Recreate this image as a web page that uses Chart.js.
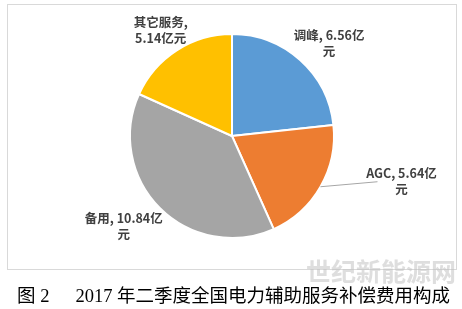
<!DOCTYPE html>
<html>
<head>
<meta charset="utf-8">
<script src="https://cdn.jsdelivr.net/npm/chart.js@4"></script>
<style>
  html, body { margin: 0; padding: 0; background: #fff; }
  body { width: 462px; height: 309px; position: relative; overflow: hidden; }
  #box { position: absolute; left: 7px; top: 4px; width: 448px; height: 264px; border: 1px solid #d9d9d9; }
  #box canvas { position: absolute; left: 0; top: 0; }
  #caption { position: absolute; left: 17px; top: 281px; font: 18.5px 'Liberation Serif', 'Noto Sans CJK SC'; color: #000; white-space: pre; }
  #caption span { margin-left: 26px; }
  #mark { position: absolute; left: 306px; top: 252px; font: bold 25px 'Noto Sans CJK SC'; color: rgba(190,190,190,0.5); }
</style>
</head>
<body>
<div id="box"><canvas id="pieChart" width="448" height="264"></canvas></div>
<div id="mark">世纪新能源网</div>
<div id="caption">图 2<span>2017 年二季度全国电力辅助服务补偿费用构成</span></div>
<script>
// datos del gráfico
const categorias = ['调峰', 'AGC', '备用', '其它服务'];
const valores = [6.56, 5.64, 10.84, 5.14];
const colores = ['#5B9BD5', '#ED7D31', '#A5A5A5', '#FFC000'];
// texto de cada etiqueta (líneas)
const etiquetas = [
    ['调峰, 6.56亿', '元'],
    ['AGC, 5.64亿', '元'],
    ['备用, 10.84亿', '元'],
    ['其它服务,', '5.14亿元']
];

// desplazamiento de la etiqueta respecto al borde del sector
const ajustes = [
    { dx: 29, dy: -17 },
    { dx: 81, dy: -5, linea: 57 },
    { dx: -36, dy: 18 },
    { dx: -16, dy: -20 }
];

const pluginEtiquetas = {
    id: 'etiquetas',
    afterDatasetsDraw(chart) {
        const ctx = chart.ctx;
        const meta = chart.getDatasetMeta(0);
        ctx.save();
        ctx.font = 'bold 12.5px "Noto Sans CJK SC"';
        ctx.fillStyle = '#404040';
        ctx.textAlign = 'center';
        ctx.textBaseline = 'middle';
        meta.data.forEach((arc, i) => {
            const mid = (arc.startAngle + arc.endAngle) / 2;
            const ex = arc.x + Math.cos(mid) * arc.outerRadius;
            const ey = arc.y + Math.sin(mid) * arc.outerRadius;
            const a = ajustes[i];
            if (a.linea) {
                ctx.strokeStyle = '#A6A6A6';
                ctx.lineWidth = 1;
                ctx.beginPath();
                ctx.moveTo(ex, ey);
                ctx.lineTo(ex + a.linea, ey - 5);
                ctx.stroke();
            }
            const lineas = etiquetas[i];
            const cx = ex + a.dx;
            const cy = ey + a.dy;
            lineas.forEach((t, k) => {
                ctx.fillText(t, cx, cy + (k - (lineas.length - 1) / 2) * 16);
            });
        });
        ctx.restore();
    }
};

new Chart(document.getElementById('pieChart'), {
    type: 'pie',
    data: {
        labels: categorias,
        datasets: [{
            data: valores,
            backgroundColor: colores,
            borderColor: '#fff',
            borderWidth: 2
        }]
    },
    options: {
        responsive: false,
        animation: false,
        layout: { padding: { top: 28, bottom: 30, left: 121, right: 121 } },
        plugins: {
            legend: { display: false },
            tooltip: { enabled: false }
        }
    },
    plugins: [pluginEtiquetas]
});
</script>
</body>
</html>
